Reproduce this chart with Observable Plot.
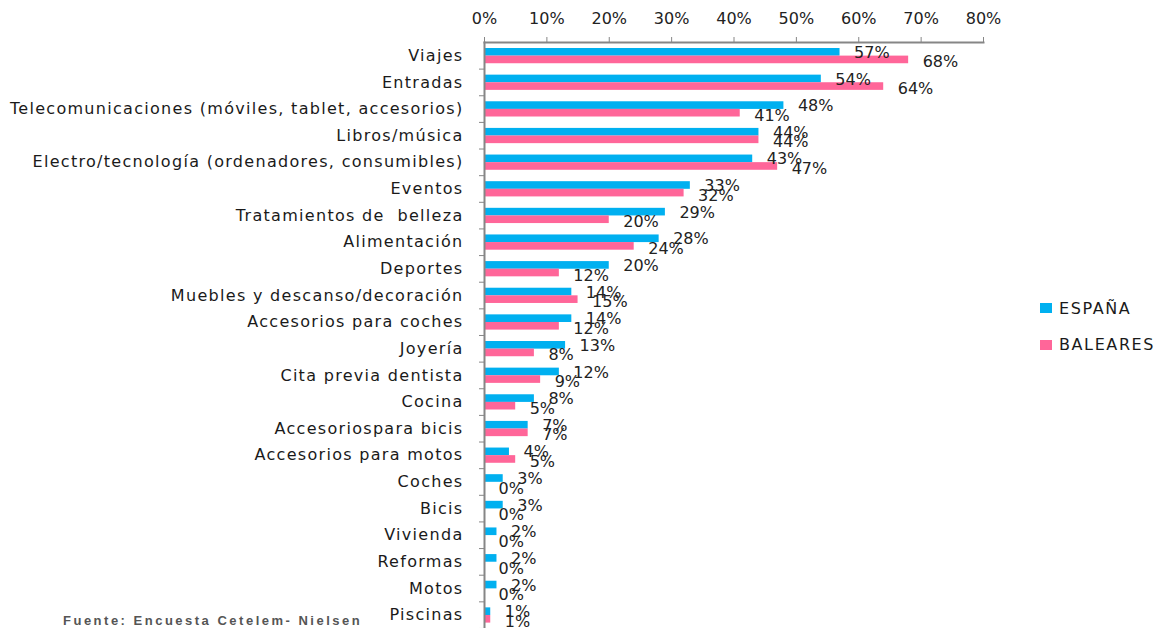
<!DOCTYPE html>
<html>
<head>
<meta charset="utf-8">
<script src="https://cdn.jsdelivr.net/npm/d3@7"></script>
<script src="https://cdn.jsdelivr.net/npm/@observablehq/plot@0.6"></script>
<style>
  html, body { margin: 0; padding: 0; background: #fff; }
  #wrap { position: relative; width: 1163px; height: 628px; overflow: hidden; }
  #legend { position: absolute; left: 1040px; top: 290px; font-family: "DejaVu Sans", sans-serif; font-size: 16px; letter-spacing: 1.6px; color: #1a1a1a; }
  #legend .item { display: flex; align-items: center; height: 36.6px; }
  #legend .sw { width: 12px; height: 10px; margin-right: 7px; }
  #footer { position: absolute; left: 63px; top: 613px; font-family: "Liberation Sans", Arial, sans-serif; font-weight: bold; font-size: 13px; letter-spacing: 2.5px; color: #555; }
  svg text.cat { letter-spacing: 1.3px; }
</style>
</head>
<body>
<div id="wrap">
  <div id="chart"></div>
  <div id="legend"></div>
  <div id="footer">Fuente: Encuesta Cetelem- Nielsen</div>
</div>
<script>
const categories = [
  "Viajes", "Entradas", "Telecomunicaciones (móviles, tablet, accesorios)", "Libros/música",
  "Electro/tecnología (ordenadores, consumibles)", "Eventos", "Tratamientos de  belleza",
  "Alimentación", "Deportes", "Muebles y descanso/decoración", "Accesorios para coches",
  "Joyería", "Cita previa dentista", "Cocina", "Accesoriospara bicis", "Accesorios para motos",
  "Coches", "Bicis", "Vivienda", "Reformas", "Motos", "Piscinas"
];
const espana   = [57, 54, 48, 44, 43, 33, 29, 28, 20, 14, 14, 13, 12, 8, 7, 4, 3, 3, 2, 2, 2, 1];
const baleares = [68, 64, 41, 44, 47, 32, 20, 24, 12, 15, 12, 8, 9, 5, 7, 5, 0, 0, 0, 0, 0, 1];
const xTicks = [0, 10, 20, 30, 40, 50, 60, 70, 80];
const seriesNames = ["ESPAÑA", "BALEARES"];
const seriesColors = ["#00b0f0", "#ff6699"];

const rowsE = categories.map((c, i) => ({category: c, value: espana[i]}));
const rowsB = categories.map((c, i) => ({category: c, value: baleares[i]}));

const axisGray = "#868686";
const font = "DejaVu Sans, sans-serif";

const chart = Plot.plot({
  width: 1163,
  height: 628,
  marginTop: 42,
  marginLeft: 484,
  marginRight: 180,
  marginBottom: 0,
  style: {fontFamily: font, fontSize: "16px", color: "#1a1a1a", background: "#fff"},
  x: {domain: [0, 80], axis: null},
  y: {domain: categories, padding: 0, round: false, axis: null},
  marks: [
    Plot.barX(rowsE, {x: "value", y: "category", fill: seriesColors[0], insetTop: 6, insetBottom: 13}),
    Plot.barX(rowsB, {x: "value", y: "category", fill: seriesColors[1], insetTop: 13.6, insetBottom: 5.4}),
    Plot.text(rowsE, {x: "value", y: "category", text: d => d.value + "%", textAnchor: "start", dx: 14, dy: -3, fontSize: 16, fill: "#222"}),
    Plot.text(rowsB, {x: "value", y: "category", text: d => d.value + "%", textAnchor: "start", dx: 14, dy: 6.5, fontSize: 16, fill: "#222"}),
    Plot.frame({anchor: "top", stroke: axisGray, strokeWidth: 2}),
    Plot.frame({anchor: "left", stroke: axisGray, strokeWidth: 2}),
    Plot.axisX({anchor: "top", ticks: xTicks, tickFormat: d => d + "%", tickSize: 6, tickPadding: 13, stroke: axisGray, fontSize: 16, fill: "#222", label: null}),
    Plot.axisY({anchor: "left", tickSize: 5, tickFormat: () => "", dy: 13.3, stroke: axisGray, label: null}),
    Plot.axisY({anchor: "left", tickSize: 0, tickPadding: 21, fontSize: 16, fill: "#1a1a1a", label: null, className: "cat"})
  ]
});
chart.querySelectorAll("g[aria-label='y-axis tick label'] text").forEach(t => t.setAttribute("class", "cat"));
document.getElementById("chart").appendChild(chart);

const legend = document.getElementById("legend");
seriesNames.forEach((n, i) => {
  const item = document.createElement("div");
  item.className = "item";
  const sw = document.createElement("span");
  sw.className = "sw";
  sw.style.background = seriesColors[i];
  const t = document.createElement("span");
  t.textContent = n;
  item.appendChild(sw);
  item.appendChild(t);
  legend.appendChild(item);
});
</script>
</body>
</html>
